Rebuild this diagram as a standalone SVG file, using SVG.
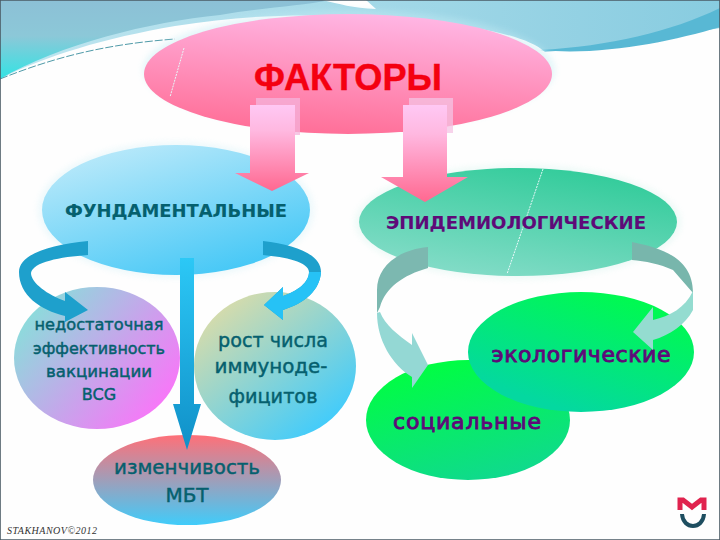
<svg xmlns="http://www.w3.org/2000/svg" width="720" height="540" viewBox="0 0 720 540">
<defs>
<linearGradient id="sky" gradientUnits="userSpaceOnUse" x1="0" y1="0" x2="0" y2="80"><stop offset="0" stop-color="#8cc0d6"/><stop offset=".45" stop-color="#8cc8d8"/><stop offset="1" stop-color="#30e4e4"/></linearGradient>
<linearGradient id="sky2" x1="0" y1="0" x2="1" y2="0"><stop offset="0" stop-color="#c0e6f0"/><stop offset="1" stop-color="#88cce0"/></linearGradient>
<linearGradient id="pink" x1="0.7" y1="0" x2="0.45" y2="1"><stop offset="0" stop-color="#ffb8e6"/><stop offset="1" stop-color="#ff6f98"/></linearGradient>
<linearGradient id="blue" x1="0.2" y1="0" x2="0.8" y2="1"><stop offset="0" stop-color="#bdeafa"/><stop offset="1" stop-color="#3fc6f6"/></linearGradient>
<linearGradient id="teal" x1="0.8" y1="0" x2="0.3" y2="1"><stop offset="0" stop-color="#2ecb98"/><stop offset="1" stop-color="#84dcc8"/></linearGradient>
<linearGradient id="n1" x1="0" y1="0.1" x2="1" y2="0.8"><stop offset="0" stop-color="#7fe8d8"/><stop offset="1" stop-color="#ff70fa"/></linearGradient>
<linearGradient id="n2" x1="0.1" y1="0.1" x2="0.8" y2="0.9"><stop offset="0" stop-color="#dcdca8"/><stop offset="1" stop-color="#44ccfa"/></linearGradient>
<linearGradient id="n3" x1="0" y1="0" x2="0" y2="1"><stop offset="0" stop-color="#ff7078"/><stop offset="1" stop-color="#40ccfa"/></linearGradient>
<linearGradient id="g1" x1="0.3" y1="0" x2="0.7" y2="1"><stop offset="0" stop-color="#00ff40"/><stop offset="1" stop-color="#10d890"/></linearGradient>
<linearGradient id="g2" x1="0.8" y1="0.1" x2="0.3" y2="0.9"><stop offset="0" stop-color="#00fa50"/><stop offset="1" stop-color="#04d8a0"/></linearGradient>
<linearGradient id="arr" x1="0" y1="0" x2="0" y2="1"><stop offset="0" stop-color="#ffc8f4"/><stop offset="0.3" stop-color="#ffb8e0"/><stop offset="1" stop-color="#ff6890"/></linearGradient>
<linearGradient id="down" x1="0" y1="0" x2="0" y2="1"><stop offset="0" stop-color="#2cc8f6"/><stop offset="1" stop-color="#1090c8"/></linearGradient>
<filter id="glow" x="-10%" y="-10%" width="120%" height="120%"><feGaussianBlur stdDeviation="3"/></filter>
</defs>
<style>
text{font-family:"DejaVu Sans","Noto Sans",sans-serif;text-anchor:middle}
.dark{fill:#05606e;stroke:#05606e;stroke-width:.45}
.pur{fill:#5e0a78;stroke:#5e0a78;stroke-width:.5}
.b{font-weight:bold;stroke-width:.1}
.big{font-size:22px;stroke-width:.9}
.halo{opacity:.45;filter:url(#glow)}
.seam{fill:none;stroke:#e8f8fa;stroke-width:1;stroke-dasharray:2 1}
</style>
<rect width="720" height="540" fill="#fefefe"/>
<g id="background">
<path d="M0 0H720V28C680 34 620 46 545 52C520 30 440 20 340 16C270 14 230 18 175 26C105 38 45 56 0 79Z" fill="url(#sky2)"/>
<path d="M0 0H330C300 6 260 8 220 15C150 22 60 44 0 79Z" fill="url(#sky)"/>
<path d="M322 0H366L376 9C352 8 340 4 322 0Z" fill="#fefefe"/>
<path d="M720 8C670 32 610 46 540 50C600 56 670 42 720 27Z" fill="#58b8d4"/>
<path d="M0 79C60 55 110 44 175 39" fill="none" stroke="#4f9aa8" stroke-width="1" stroke-dasharray="8 2"/>
<path d="M0 0H720V540H0Z" fill="none" stroke="#4a5a64" stroke-width="1.6"/>
</g>
<g id="node-factors">
<ellipse cx="349" cy="70" rx="206" ry="60" fill="#c4ecf4" class="halo"/>
<ellipse cx="348" cy="74" rx="204" ry="60" fill="url(#pink)"/>
<path class="seam" d="M184 48L170 97"/>
<text x="348" y="90" font-weight="bold" font-size="37" fill="#f40010" stroke="#f40010" stroke-width=".4" textLength="188" lengthAdjust="spacingAndGlyphs" style="font-family:'Liberation Sans',sans-serif">ФАКТОРЫ</text>
</g>
<g id="node-fundamental">
<ellipse cx="176" cy="210" rx="138" ry="68" fill="#d8f2f8" class="halo"/>
<ellipse cx="176" cy="210" rx="134" ry="65" fill="url(#blue)"/>
<text x="176" y="217" class="dark b" font-size="17.5" textLength="222" lengthAdjust="spacingAndGlyphs">ФУНДАМЕНТАЛЬНЫЕ</text>
</g>
<g id="node-epidemiological">
<ellipse cx="518" cy="222" rx="163" ry="57" fill="#d8f4ee" class="halo"/>
<ellipse cx="518" cy="222" rx="159" ry="54" fill="url(#teal)"/>
<path class="seam" d="M543 169L507 274"/>
<text x="516" y="229" class="pur b" font-size="17.5" textLength="260" lengthAdjust="spacingAndGlyphs">ЭПИДЕМИОЛОГИЧЕСКИЕ</text>
</g>
<g id="node-vaccination">
<ellipse cx="97" cy="358" rx="83" ry="71" fill="url(#n1)"/>
<g class="dark" font-size="16">
<text x="99" y="330" textLength="129" lengthAdjust="spacingAndGlyphs">недостаточная</text>
<text x="99" y="354" textLength="132" lengthAdjust="spacingAndGlyphs">эффективность</text>
<text x="99" y="377" textLength="106" lengthAdjust="spacingAndGlyphs">вакцинации</text>
<text x="99" y="400">BCG</text>
</g>
</g>
<g id="node-immunodeficiency">
<ellipse cx="275" cy="366" rx="81" ry="74" fill="url(#n2)"/>
<g class="dark" font-size="20">
<text x="273" y="347" textLength="110" lengthAdjust="spacingAndGlyphs">рост числа</text>
<text x="271" y="373" textLength="113" lengthAdjust="spacingAndGlyphs">иммуноде-</text>
<text x="273" y="403" textLength="89" lengthAdjust="spacingAndGlyphs">фицитов</text>
</g>
</g>
<g id="node-mbt">
<ellipse cx="187" cy="480" rx="94" ry="45" fill="url(#n3)"/>
<g class="dark" font-size="20">
<text x="187" y="474" textLength="146" lengthAdjust="spacingAndGlyphs">изменчивость</text>
<text x="187" y="502">МБТ</text>
</g>
</g>
<g id="node-social">
<ellipse cx="468" cy="420" rx="102" ry="60" fill="url(#g1)"/>
<text x="467" y="429" class="pur big" textLength="148" lengthAdjust="spacing">социальные</text>
</g>
<g id="node-ecological">
<ellipse cx="581" cy="352" rx="113" ry="60" fill="url(#g2)"/>
<text x="581" y="362" class="pur big" textLength="179" lengthAdjust="spacing">экологические</text>
</g>
<g id="connectors">
<path d="M256 98H300V135H256Z" fill="#f4b4dc" opacity=".75"/>
<path d="M250 105H295V173H309L272 191L235 173H250Z" fill="url(#arr)"/>
<path d="M409 98H453V133H409Z" fill="#f4c4e4" opacity=".75"/>
<path d="M403 105H447V177H468L425 202L381 177H403Z" fill="url(#arr)"/>
<path d="M180 258H194V404H201L187 450L173 404H180Z" fill="url(#down)"/>
<path d="M88 241C50 245 19 254 19 272C19 295 40 310 65 316V322L88 310L65 292V301C48 295 31 283 31 273C33 262 60 257 88 255Z" fill="#1ea0cc"/>
<path d="M263 241C295 245 321 254 321 272C320 290 305 303 283 310V320L264 305L283 287V296C298 291 309 282 309 272C309 262 285 257 263 255Z" fill="#1ea0cc"/>
<path d="M321 272C320 290 305 303 283 310V320L264 305L283 287V296C298 291 309 282 309 272Z" fill="#26c2f6"/>
<path d="M428 247C396 250 377 268 377 290V313L380 307C385 288 403 275 428 268Z" fill="#7cb8b0"/>
<path d="M377 313C377 340 392 365 412 377V388L428 365L412 333V345C398 335 385 325 380 312Z" fill="#94d8d4"/>
<path d="M632 242C662 248 693 258 693 293L673 270C660 264 645 261 632 260Z" fill="#78b6ac"/>
<path d="M693 291V310C685 325 670 335 653 340V350L633 332L653 307V320C670 316 685 308 693 291Z" fill="#94dcd0"/>
</g>
<text x="52" y="534" font-size="10" fill="#333" font-style="italic" textLength="90" lengthAdjust="spacing" style="font-family:'Liberation Serif',serif">STAKHANOV©2012</text>
<g id="logo" fill="none">
<path d="M680 510V500H683L692 507L701 500H704V510" stroke="#e0234e" stroke-width="5"/>
<path d="M682 514C683 530 703 530 704 514" stroke="#1e4e60" stroke-width="4"/>
</g>
</svg>
